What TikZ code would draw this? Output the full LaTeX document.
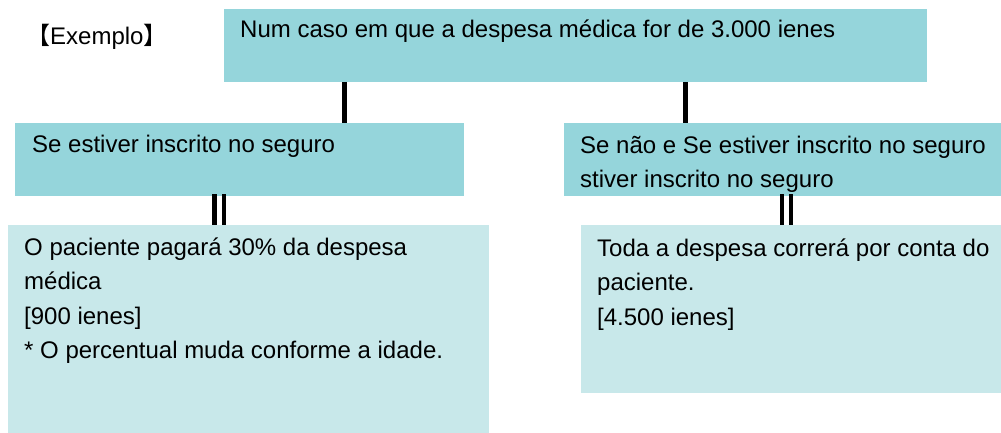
\documentclass[tikz,border=0pt]{standalone}
\usepackage{fontspec}
\setmainfont{Liberation Sans}
\newfontfamily\cjk{Noto Sans CJK SC}
\definecolor{boxdark}{HTML}{95D5DB}
\definecolor{boxlight}{HTML}{C8E8EA}
\tikzset{
  boxbase/.style={rectangle, draw=none, inner sep=0pt, outer sep=0pt, anchor=north west},
  darkbox/.style={boxbase, fill=boxdark},
  lightbox/.style={boxbase, fill=boxlight},
  txt/.style={anchor=base west, inner sep=0pt, align=left, font=\fontsize{24}{34.5}\selectfont},
  conn/.style={line width=5pt, black},
  dconn/.style={line width=4.6pt, black},
}
\begin{document}
\begin{tikzpicture}[x=1pt,y=-1pt]
\useasboundingbox (0,0) rectangle (1001,433);
% boxes
\node[darkbox, minimum width=703pt, minimum height=73pt] (top) at (224,9) {};
\node[darkbox, minimum width=449pt, minimum height=73pt] (ml) at (15,123) {};
\node[darkbox, minimum width=437pt, minimum height=73pt] (mr) at (564,123) {};
\node[lightbox, minimum width=481pt, minimum height=208pt] (bl) at (8,225) {};
\node[lightbox, minimum width=420pt, minimum height=168pt] (br) at (581,225) {};
% x positions of connectors
\coordinate (xl) at (344,0);
\coordinate (xr) at (685,0);
\coordinate (xl1) at (214.7,0);
\coordinate (xl2) at (224,0);
\coordinate (xr1) at (782,0);
\coordinate (xr2) at (791,0);
% connectors
\draw[conn] (top.south -| xl) -- (ml.north -| xl);
\draw[conn] (top.south -| xr) -- (mr.north -| xr);
\draw[dconn] ([yshift=2pt]ml.south -| xl1) -- (bl.north -| xl1);
\draw[dconn] ([yshift=2pt]ml.south -| xl2) -- (bl.north -| xl2);
\draw[dconn] ([yshift=2pt]mr.south -| xr1) -- (br.north -| xr1);
\draw[dconn] ([yshift=2pt]mr.south -| xr2) -- (br.north -| xr2);
% texts (base west = baseline of the last line)
\node[txt] (ex) at (26,45) {{\cjk 【}Exemplo{\cjk 】}};
\node[txt] (ttop) at (240,38) {Num caso em que a despesa médica for de 3.000 ienes};
\node[txt] (tml) at (32,153) {Se estiver inscrito no seguro};
\node[txt] (tmr) at (580,187.5) {Se não e Se estiver inscrito no seguro\\stiver inscrito no seguro};
\node[txt] (tbl) at (24,358.5) {O paciente pagará 30\% da despesa\\médica\\{[900 ienes]}\\* O percentual muda conforme a idade.};
\node[txt] (tbr) at (597,325) {Toda a despesa correrá por conta do\\paciente.\\{[4.500 ienes]}};
\end{tikzpicture}
\end{document}
